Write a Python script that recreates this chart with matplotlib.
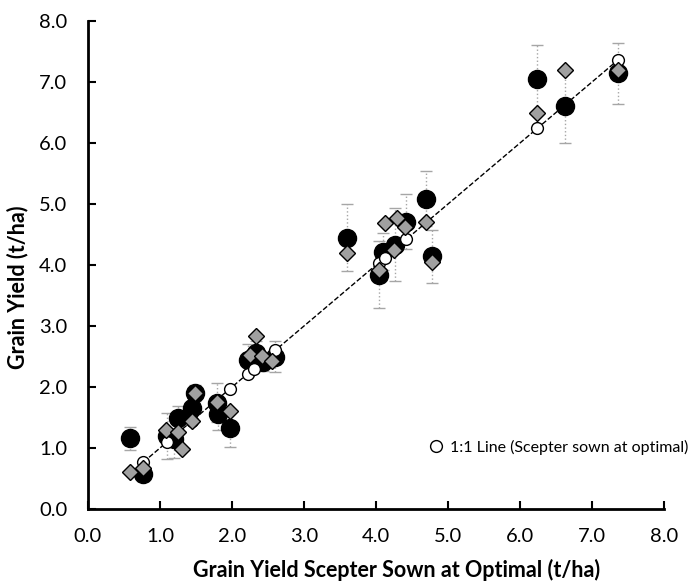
import matplotlib
matplotlib.use("Agg")
import matplotlib.pyplot as plt

plt.rcParams['font.family'] = ['Lato', 'DejaVu Sans']

# Scepter sown at optimal (x) vs grain yield of the other treatments
x_black = [0.59, 0.77, 1.10, 1.20, 1.25, 1.44, 1.48, 1.79, 1.81, 1.97,
           2.22, 2.34, 2.43, 2.60, 3.60, 4.04, 4.10, 4.26, 4.42, 4.70,
           4.78, 6.24, 6.62, 7.36]
y_black = [1.16, 0.58, 1.20, 1.14, 1.49, 1.65, 1.90, 1.74, 1.55, 1.32,
           2.44, 2.56, 2.41, 2.50, 4.45, 3.84, 4.22, 4.33, 4.71, 5.09,
           4.14, 7.05, 6.60, 7.14]
err_black = [0.19, 0.12, 0.38, 0.30, 0.20, 0.20, 0.13, 0.32, 0.25, 0.30,
             0.26, 0.20, 0.15, 0.25, 0.55, 0.55, 0.30, 0.60, 0.45, 0.45,
             0.43, 0.55, 0.60, 0.50]

x_diam = [0.59, 0.77, 1.09, 1.25, 1.30, 1.45, 1.48, 1.79, 1.97, 2.25,
          2.33, 2.41, 2.56, 3.60, 4.04, 4.12, 4.25, 4.29, 4.40, 4.70,
          4.78, 6.24, 6.62, 7.36]
y_diam = [0.61, 0.67, 1.30, 1.26, 0.98, 1.44, 1.90, 1.76, 1.60, 2.52,
          2.84, 2.51, 2.42, 4.19, 3.91, 4.69, 4.25, 4.77, 4.62, 4.71,
          4.05, 6.49, 7.20, 7.20]

# 1:1 line points (Scepter sown at optimal)
x_line = [0.77, 1.10, 1.45, 1.97, 2.22, 2.30, 2.60, 4.04, 4.12, 4.42,
          6.24, 7.36]

ticks = [0, 1, 2, 3, 4, 5, 6, 7, 8]

fig = plt.figure(figsize=(6.92, 5.83), dpi=100)
ax = fig.add_axes([88/692, 1-509/583, 576/692, 488/583])

eb = ax.errorbar(x_black, y_black, yerr=err_black, fmt='none', ecolor='#a6a6a6',
                 elinewidth=1.0, capsize=4, capthick=1.0, zorder=1)
eb[2][0].set_linestyle(':')

ax.plot(x_line, x_line, linestyle='--', color='black', linewidth=1.0, zorder=2)
ax.plot(x_black, y_black, 'o', color='black', markersize=13, linestyle='none', zorder=3)
ax.plot(x_line, x_line, 'o', markerfacecolor='white', markeredgecolor='black',
        markeredgewidth=1.0, markersize=8.5, linestyle='none', zorder=4,
        label='1:1 Line (Scepter sown at optimal)')
ax.plot(x_diam, y_diam, 'D', markerfacecolor='#a0a0a0', markeredgecolor='black',
        markeredgewidth=1.0, markersize=8.5, linestyle='none', zorder=5)

ax.set_xlim(0, 8)
ax.set_ylim(0, 8)
ax.set_xticks(ticks)
ax.set_yticks(ticks)
ax.set_xticklabels([f"{t:.1f}" for t in ticks])
ax.set_yticklabels([f"{t:.1f}" for t in ticks])
ax.tick_params(direction='in', length=6, width=1.5, labelsize=14.5)
ax.tick_params(axis='x', pad=14)
ax.tick_params(axis='y', pad=15)

for s in ['top', 'right']:
    ax.spines[s].set_visible(False)
for s in ['left', 'bottom']:
    ax.spines[s].set_linewidth(2)

ax.set_xlabel("Grain Yield Scepter Sown at Optimal (t/ha)", fontsize=15.5, fontweight='bold')
ax.set_ylabel("Grain Yield (t/ha)", fontsize=15.5, fontweight='bold')
ax.xaxis.set_label_coords(0.536, -0.125)
ax.xaxis.label.set_va('center')
ax.yaxis.set_label_coords(-0.122, 0.455)
ax.yaxis.label.set_va('center')

ax.legend(loc='center left', bbox_to_anchor=(428/692, 1-447/583),
          bbox_transform=fig.transFigure, frameon=False, fontsize=11.5,
          handlelength=1, handletextpad=0.35, borderpad=0, borderaxespad=0)

fig.savefig("out.png", dpi=100)
